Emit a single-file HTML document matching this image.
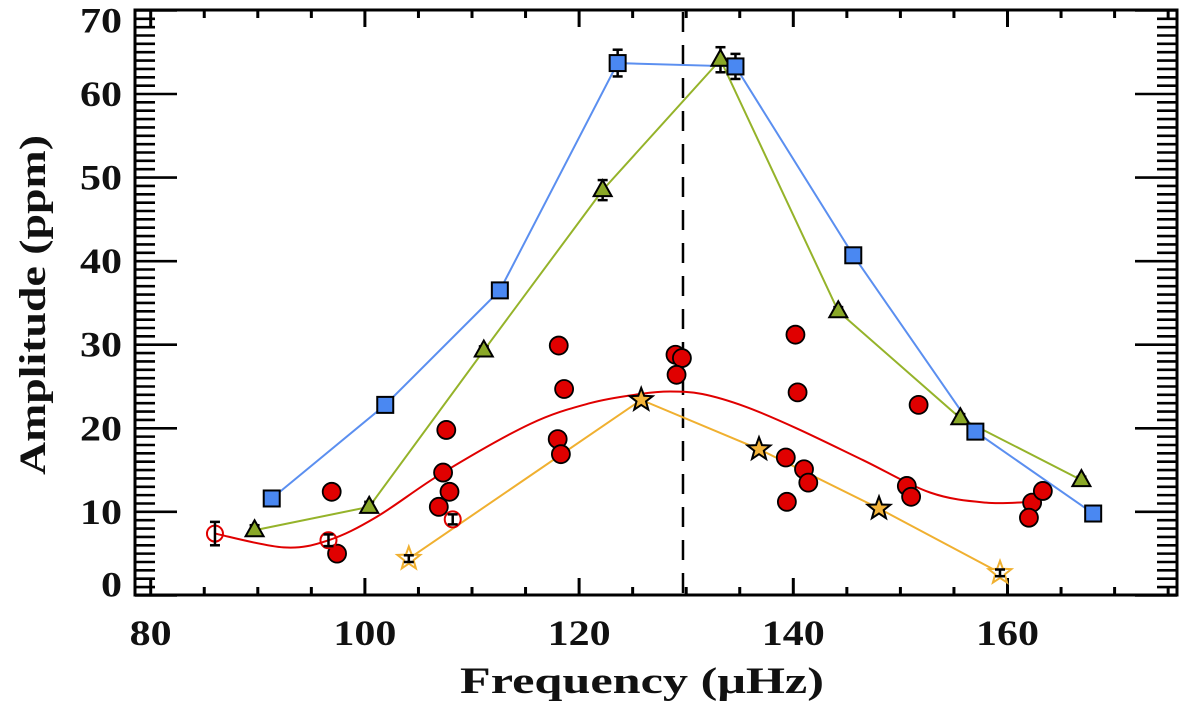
<!DOCTYPE html>
<html><head><meta charset="utf-8"><style>
html,body{margin:0;padding:0;background:#fff;}
svg{display:block;}
text{font-family:"Liberation Serif",serif;font-weight:bold;fill:#111;}
</style></head><body>
<svg id="chart" width="1200" height="704" viewBox="0 0 1200 704" xmlns="http://www.w3.org/2000/svg">
<g id="axes"></g>
<g id="series"></g>
<text x="460" y="693" font-size="37" textLength="364" lengthAdjust="spacingAndGlyphs">Frequency (μHz)</text>
<text transform="translate(45,475) rotate(-90)" font-size="37" textLength="340" lengthAdjust="spacingAndGlyphs">Amplitude (ppm)</text>
</svg>
<script>
const xTicksMajor = [80, 100, 120, 140, 160];
const yTicksMajor = [0, 10, 20, 30, 40, 50, 60, 70];
const dashedFreq = 129.7;

const blueX = [91.3, 101.9, 112.6, 123.6, 134.6, 145.6, 157.0, 168.0];
const blueY = [11.6, 22.8, 36.5, 63.7, 63.3, 40.7, 19.6, 9.8];
const blueErr = [0.6, 0.5, 0.5, 1.6, 1.5, 0.5, 0.5, 0.4];

const greenX = [89.7, 100.4, 111.1, 122.2, 133.2, 144.2, 155.6, 166.9];
const greenY = [7.8, 10.6, 29.3, 48.5, 64.1, 34.0, 21.2, 13.8];
const greenErr = [0.6, 0.6, 0.5, 1.2, 1.5, 0.5, 0.5, 0.4];

const redX = [96.9, 97.4, 107.6, 107.3, 107.9, 106.9, 118.1, 118.6, 118.0, 118.3, 129.0, 129.6, 129.1, 140.2, 140.4, 151.7, 139.3, 141.0, 141.4, 139.4, 150.6, 151.0, 162.3, 163.3, 162.0];
const redY = [12.4, 5.0, 19.8, 14.7, 12.4, 10.6, 29.9, 24.7, 18.7, 16.9, 28.8, 28.4, 26.4, 31.2, 24.3, 22.8, 16.5, 15.1, 13.5, 11.2, 13.1, 11.8, 11.1, 12.5, 9.3];
const redErr = [0.8, 0.4, 0.4, 0.4, 0.4, 0.4, 0.7, 0.5, 0.5, 0.7, 0.5, 0.4, 0.4, 0.7, 0.7, 0.4, 0.4, 0.4, 0.5, 0.4, 0.4, 0.4, 0.4, 0.4, 0.4];

const openX = [86.0, 96.6, 108.2];
const openY = [7.4, 6.6, 9.1];
const openErr = [1.4, 0.7, 0.6];

const starX = [104.1, 125.8, 136.8, 148.0, 159.3];
const starY = [4.4, 23.4, 17.5, 10.4, 2.7];
const starOpen = [true, false, false, false, true];

const fitX = [86.0, 92.4, 96.6, 101.1, 107.3, 115.4, 121.0, 125.7, 128.5, 131.5, 135.5, 140.3, 146.5, 152.8, 158.0, 162.3];
const fitY = [7.4, 5.75, 6.6, 9.4, 14.7, 20.5, 23.0, 24.1, 24.4, 24.1, 22.6, 20.0, 16.2, 12.3, 11.1, 11.2];

const NS = "http://www.w3.org/2000/svg";
const L = 135, R = 1177, T = 10, B = 595;
function X(v){ return 150.7 + (v - 80) * 10.71; }
function Y(v){ return 94 + (60 - v) * 8.357; }
function mk(tag, attrs, parent){ const e = document.createElementNS(NS, tag); for (const k in attrs) e.setAttribute(k, attrs[k]); parent.appendChild(e); return e; }

const axes = document.getElementById('axes');
const ser = document.getElementById('series');

const frame = mk('rect', {x:L, y:T, width:R-L, height:B-T, fill:'none', stroke:'#000', 'stroke-width':3}, axes);



for (let v = 80; v <= 175; v += 5) {
  const major = v % 20 === 0;
  const len = major ? 17 : 8;
  const x = X(v);
  const t1 = mk('line', {x1:x, x2:x, y1:B, y2:B-len, stroke:'#000', 'stroke-width':3}, axes);
  
  
  const t2 = mk('line', {x1:x, x2:x, y1:T, y2:T+len, stroke:'#000', 'stroke-width':3}, axes);
  
  
}
xTicksMajor.forEach(v => {
  const s = String(v);
  const w = s.length * 21;
  const t = mk('text', {x:X(v) - w/2, y:645, 'font-size':36, textLength:w, lengthAdjust:'spacingAndGlyphs'}, axes);
  t.textContent = s;
  
  
});
for (let v = 0; v <= 70; v += 1) {
  const major = v % 10 === 0;
  const len = major ? 42 : 20;
  const y = Y(v);
  const t1 = mk('line', {x1:L, x2:L+len, y1:y, y2:y, stroke:'#000', 'stroke-width':2.6}, axes);
  
  
  const t2 = mk('line', {x1:R, x2:R-len, y1:y, y2:y, stroke:'#000', 'stroke-width':2.6}, axes);
  
  
}
yTicksMajor.forEach(v => {
  let y = Y(v) + 12;
  if (v === 0) y -= 11;
  if (v === 70) y += 10;
  const s = String(v);
  const w = s.length * 21;
  const t = mk('text', {x:122 - w, y:y, 'font-size':36, textLength:w, lengthAdjust:'spacingAndGlyphs'}, axes);
  t.textContent = s;
  
  
});

const dl = mk('line', {x1:X(dashedFreq), x2:X(dashedFreq), y1:T+2, y2:B, stroke:'#000', 'stroke-width':2.5, 'stroke-dasharray':'20,13'}, ser);



function poly(xs, ys, color, name){
  const p = mk('polyline', {points: xs.map((x,i)=>X(x)+','+Y(ys[i])).join(' '), fill:'none', stroke:color, 'stroke-width':2}, ser);
  
  
}
function errbar(x, y, e, name){
  const g = mk('g', {stroke:'#000', 'stroke-width':2.5}, ser);
  
  
  const cx = X(x), y1 = Y(y+e), y2 = Y(y-e);
  mk('line', {x1:cx, x2:cx, y1:y1, y2:y2}, g);
  mk('line', {x1:cx-5, x2:cx+5, y1:y1, y2:y1}, g);
  mk('line', {x1:cx-5, x2:cx+5, y1:y2, y2:y2}, g);
}

(function(){
  const pts = fitX.map((x,i)=>[X(x), Y(fitY[i])]);
  let d = 'M' + pts[0][0] + ',' + pts[0][1];
  for (let i = 0; i < pts.length-1; i++) {
    const p0 = pts[Math.max(0,i-1)], p1 = pts[i], p2 = pts[i+1], p3 = pts[Math.min(pts.length-1,i+2)];
    const c1 = [p1[0]+(p2[0]-p0[0])/6, p1[1]+(p2[1]-p0[1])/6];
    const c2 = [p2[0]-(p3[0]-p1[0])/6, p2[1]-(p3[1]-p1[1])/6];
    d += ' C' + c1 + ' ' + c2 + ' ' + p2;
  }
  const c = mk('path', {d:d, fill:'none', stroke:'#e00000', 'stroke-width':2}, ser);
  
  
})();

poly(blueX, blueY, '#5b8ff0', 'blue-series-line');
poly(greenX, greenY, '#95b32a', 'green-series-line');
poly(starX, starY, '#f0b030', 'orange-series-line');

redX.forEach((x,i)=>{
  errbar(x, redY[i], redErr[i], 'red-point-errorbar');
  const c = mk('circle', {cx:X(x), cy:Y(redY[i]), r:9, fill:'#e00000', stroke:'#000', 'stroke-width':1.8}, ser);
  
  
});
openX.forEach((x,i)=>{
  const c = mk('circle', {cx:X(x), cy:Y(openY[i]), r:8, fill:'none', stroke:'#e00000', 'stroke-width':2}, ser);
  
  
  errbar(x, openY[i], openErr[i], 'red-open-errorbar');
});
greenX.forEach((x,i)=>{
  errbar(x, greenY[i], greenErr[i], 'green-errorbar');
  const cx = X(x), cy = Y(greenY[i]);
  const t = mk('polygon', {points:(cx)+','+(cy-10)+' '+(cx-9)+','+(cy+6)+' '+(cx+9)+','+(cy+6), fill:'#8aa828', stroke:'#000', 'stroke-width':2}, ser);
  
  
});
blueX.forEach((x,i)=>{
  errbar(x, blueY[i], blueErr[i], 'blue-errorbar');
  const cx = X(x), cy = Y(blueY[i]);
  const s = mk('rect', {x:cx-8, y:cy-8, width:16, height:16, fill:'#4a88f2', stroke:'#000', 'stroke-width':2}, ser);
  
  
});
starX.forEach((x,i)=>{
  const cx = X(x), cy = Y(starY[i]);
  let pts = [];
  for (let k = 0; k < 10; k++) {
    const r = k % 2 === 0 ? 12 : 5;
    const a = -Math.PI/2 + k*Math.PI/5;
    pts.push((cx + r*Math.cos(a)).toFixed(1) + ',' + (cy + r*Math.sin(a)).toFixed(1));
  }
  const s = mk('polygon', {points:pts.join(' '),
    fill: starOpen[i] ? '#fff' : '#f2b33a', stroke: starOpen[i] ? '#f0b030' : '#000', 'stroke-width': 2}, ser);
  
  
  if (starOpen[i]) errbar(x, starY[i], 0.4, 'star-errorbar');
});
</script>
</body></html>
